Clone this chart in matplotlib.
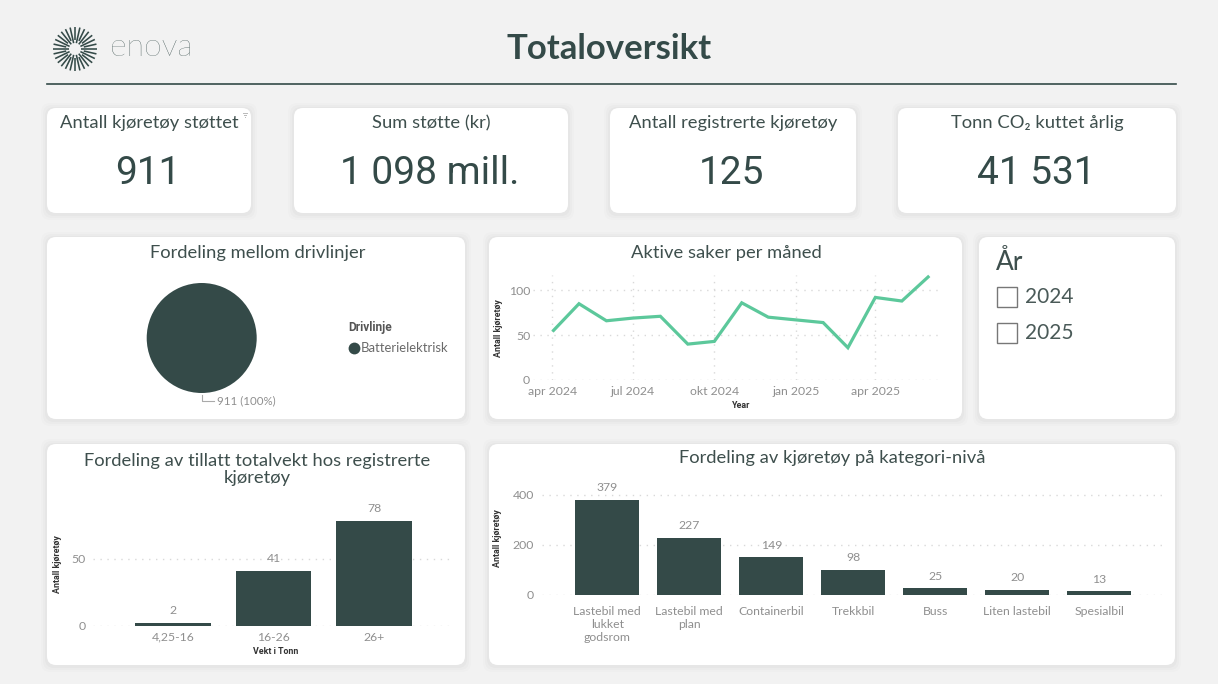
import datetime as dt
import numpy as np
import matplotlib
matplotlib.use("Agg")
import matplotlib.pyplot as plt
import matplotlib.dates as mdates
from matplotlib.patches import FancyBboxPatch, Rectangle
from matplotlib.lines import Line2D

# ---- data ----
kpi_titles = ["Antall kjøretøy støttet", "Sum støtte (kr)", "Antall registrerte kjøretøy", "Tonn CO₂ kuttet årlig"]
kpi_values = ["911", "1 098 mill.", "125", "41 531"]
drive_labels = ["Batterielektrisk"]
drive_values = [911]
months = ["2024-04", "2024-05", "2024-06", "2024-07", "2024-08", "2024-09", "2024-10", "2024-11",
          "2024-12", "2025-01", "2025-02", "2025-03", "2025-04", "2025-05", "2025-06"]
active_cases = [54, 85, 66, 69, 71, 40, 43, 86, 70, 67, 64, 36, 92, 88, 116]
month_ticks = ["2024-04", "2024-07", "2024-10", "2025-01", "2025-04"]
month_tick_labels = ["apr 2024", "jul 2024", "okt 2024", "jan 2025", "apr 2025"]
years = ["2024", "2025"]
weight_classes = ["4,25-16", "16-26", "26+"]
weight_counts = [2, 41, 78]
vehicle_cats = ["Lastebil med\nlukket\ngodsrom", "Lastebil med\nplan", "Containerbil", "Trekkbil",
                "Buss", "Liten lastebil", "Spesialbil"]
vehicle_counts = [379, 227, 149, 98, 25, 20, 13]

# ---- style ----
W, H = 1218, 684
BG = "#F2F2F2"; DARK = "#344A48"; TITLE = "#3E4F4D"; TICK = "#8F8F8F"; GRID = "#D9D9D9"; GREEN = "#5CC89B"
TF = ["Lato", "DejaVu Sans"]
NF = ["Roboto", "DejaVu Sans"]

fig = plt.figure(figsize=(W / 100, H / 100), dpi=100, facecolor=BG)
bg = fig.add_axes([0, 0, 1, 1])
bg.set_xlim(0, W); bg.set_ylim(H, 0); bg.axis("off")


def card(l, t, r, b):
    for grow, a in ((6, .012), (4, .015), (2, .02)):
        bg.add_patch(FancyBboxPatch((l - grow + 2, t - grow + 3), r - l + 2 * grow - 4, b - t + 2 * grow - 4,
                                    boxstyle="round,pad=2,rounding_size=9", fc="black", ec="none", alpha=a))
    bg.add_patch(FancyBboxPatch((l + 9, t + 9), r - l - 18, b - t - 18,
                                boxstyle="round,pad=9,rounding_size=9", fc="white", ec="none"))


def pxaxes(l, t, r, b):
    ax = fig.add_axes([l / W, 1 - b / H, (r - l) / W, (b - t) / H])
    ax.patch.set_alpha(0)
    return ax


def ctitle(x, y, s, size=13.2):
    bg.text(x, y, s, ha="center", va="center", fontsize=size, color=TITLE, family=TF, linespacing=1.1)


def style_axes(ax, l, t, r, b, ylab_px=None, xlab_px=None, ylab=None, xlab=None, ypad=3.5, xpad=3):
    for s in ax.spines.values():
        s.set_visible(False)
    ax.tick_params(length=0, labelsize=8.8, labelcolor=TICK, pad=ypad, axis="y")
    ax.tick_params(length=0, labelsize=8.8, labelcolor=TICK, pad=xpad, axis="x")
    for lb in ax.get_xticklabels() + ax.get_yticklabels():
        lb.set_family(TF)
    ax.set_axisbelow(True)
    ax.grid(axis="y", color=GRID, lw=1, ls=(0, (1, 4)))
    if ylab:
        ax.set_ylabel(ylab, fontsize=6.4, fontweight="bold", color="#333333", family=NF)
        ax.yaxis.set_label_coords((ylab_px[0] - l) / (r - l), (b - ylab_px[1]) / (b - t))
    if xlab:
        ax.set_xlabel(xlab, fontsize=6.4, fontweight="bold", color="#333333", family=NF)
        ax.xaxis.set_label_coords((xlab_px[0] - l) / (r - l), (b - xlab_px[1]) / (b - t))
        ax.xaxis.label.set_verticalalignment("center")


# ---- header ----
for ang in np.arange(0, 360, 360 / 28):
    a = np.deg2rad(ang)
    r0 = 6 if int(round(ang / (360 / 28))) % 2 == 0 else 9
    bg.plot([75 + r0 * np.cos(a), 75 + 22 * np.cos(a)], [49 + r0 * np.sin(a), 49 + 22 * np.sin(a)],
            color=DARK, lw=1.15, solid_capstyle="butt")
bg.text(110, 47, "enova", fontsize=23, color=DARK, family=TF, fontweight="light", va="center", ha="left")
bg.text(609, 49, "Totaloversikt", fontsize=25, color=DARK, family=TF, fontweight="bold", va="center", ha="center")
bg.plot([47, 1176], [84, 84], color=DARK, lw=1.2)

# ---- KPI cards ----
kpi_boxes = [(47, 251), (294, 568), (610, 856), (898, 1176)]
for (l, r), t, v in zip(kpi_boxes, kpi_titles, kpi_values):
    card(l, 108, r, 213)
    ctitle((l + r) / 2 + 0.5, 123, t)
    bg.text((l + r) / 2 - 1, 174, v, ha="center", va="center", fontsize=28, color=DARK, family=NF)
bg.add_patch(Rectangle((243, 112.5), 5, 1, fc="#BBBBBB", ec="none"))
bg.add_patch(Rectangle((244, 114.5), 3, 1, fc="#BBBBBB", ec="none"))
bg.add_patch(Rectangle((245, 116.5), 1, 1, fc="#BBBBBB", ec="none"))

# ---- pie ----
card(47, 237, 465, 419)
ctitle(257.5, 253, "Fordeling mellom drivlinjer")
ax = pxaxes(146.7, 283, 256.7, 393)
wedges, _ = ax.pie(drive_values, colors=[DARK], radius=1, startangle=90)
ax.set_xlim(-1, 1); ax.set_ylim(-1, 1)
bg.plot([201.7, 201.7, 214], [395, 400.5, 400.5], color="#AAAAAA", lw=0.8)
bg.text(217, 400.5, f"{drive_values[0]} (100%)", fontsize=8.3, color=TICK, family=TF, va="center", ha="left")
bg.text(348, 328, "Drivlinje", fontsize=8.6, fontweight="bold", color="#555555", family=NF, va="center", ha="left")
bg.plot([354], [348], "o", ms=8.5, color=DARK, mec="none")
bg.text(361, 348, drive_labels[0], fontsize=9.4, color="#6A6A6A", family=TF, va="center", ha="left")

# ---- line ----
card(489, 237, 962, 419)
ctitle(726, 253, "Aktive saker per måned")
L, T, R, B = 533, 275, 939, 380
ax = pxaxes(L, T, R, B)
xs = [dt.datetime.strptime(m, "%Y-%m") for m in months]
ax.plot(xs, active_cases, color=GREEN, lw=2.3, solid_joinstyle="miter", solid_capstyle="butt", clip_on=False)
ax.set_xlim(dt.datetime(2024, 3, 10), dt.datetime(2025, 6, 12))
ax.set_ylim(0, 117)
ax.set_yticks([0, 50, 100])
ax.set_xticks([dt.datetime.strptime(m, "%Y-%m") for m in month_ticks])
ax.set_xticklabels(month_tick_labels)
style_axes(ax, L, T, R, B, (503, 328), (740.7, 405), "Antall kjøretøy", "Year", ypad=2, xpad=4)
ax.grid(axis="x", color=GRID, lw=1, ls=(0, (1, 4)))

# ---- slicer ----
card(979, 237, 1175, 419)
bg.text(996, 262, "År", fontsize=19, color=TITLE, family=TF, va="center", ha="left")
for y, lab in zip([297, 333], years):
    bg.add_patch(Rectangle((996.5, y - 10), 20, 20, fc="white", ec="#777777", lw=1))
    bg.text(1025, y, lab, fontsize=15, color="#4A5A58", family=TF, va="center", ha="left")

# ---- weight bars ----
card(47, 444, 465, 665)
ctitle(257, 469.5, "Fordeling av tillatt totalvekt hos registrerte\nkjøretøy")
L, T, R, B = 93, 510, 454, 626
ax = pxaxes(L, T, R, B)
xp = np.arange(len(weight_classes))
bars = ax.bar(xp, weight_counts, width=0.756, color=DARK)
ax.bar_label(bars, padding=5, fontsize=8.8, color=TICK, family=TF)
ax.set_xlim(-0.796, 2.796); ax.set_ylim(0, 86)
ax.set_xticks(xp); ax.set_xticklabels(weight_classes)
ax.set_yticks([0, 50])
style_axes(ax, L, T, R, B, (62, 564), (275.7, 651.7), "Antall kjøretøy", "Vekt i Tonn", ypad=5.5, xpad=4)

# ---- vehicle bars ----
card(489, 444, 1175, 665)
ctitle(832.5, 458, "Fordeling av kjøretøy på kategori-nivå")
L, T, R, B = 541.6, 478, 1163, 594.7
ax = pxaxes(L, T, R, B)
xp = np.arange(len(vehicle_cats))
bars = ax.bar(xp, vehicle_counts, width=0.777, color=DARK)
ax.bar_label(bars, padding=5, fontsize=8.8, color=TICK, family=TF)
ax.set_xlim((L - 607.3) / 82, (R - 607.3) / 82); ax.set_ylim(0, (B - T) / 0.25)
ax.set_xticks(xp); ax.set_xticklabels(vehicle_cats, linespacing=1.25)
ax.set_yticks([0, 200, 400])
style_axes(ax, L, T, R, B, (502, 538), None, "Antall kjøretøy", None, ypad=5.5, xpad=8)

fig.savefig("out.png", dpi=100, facecolor=BG)
